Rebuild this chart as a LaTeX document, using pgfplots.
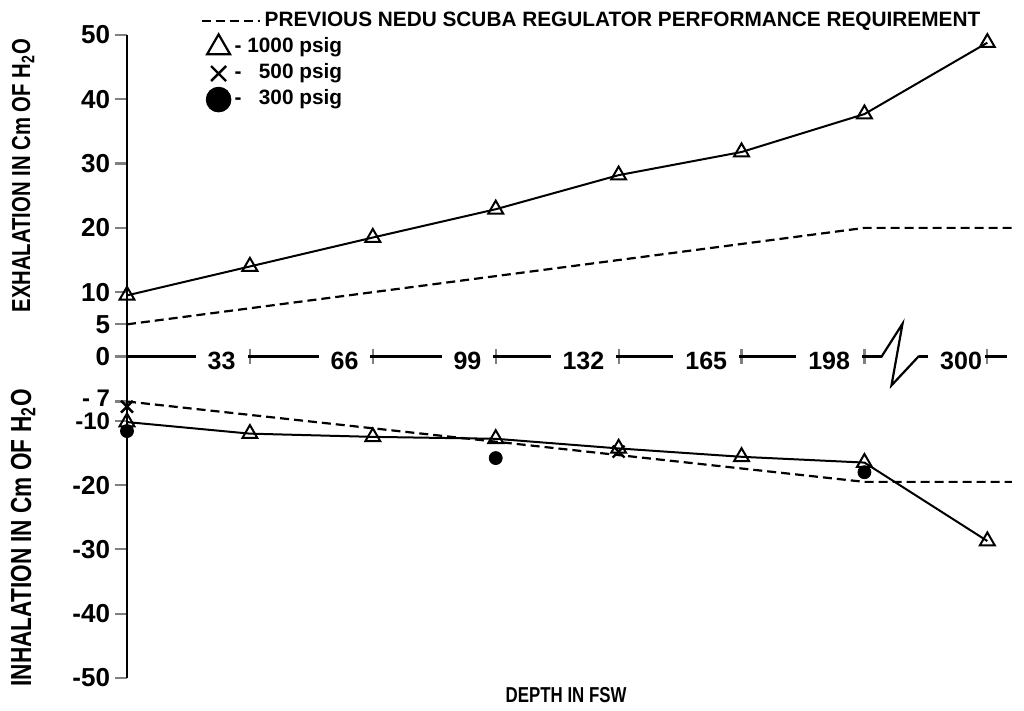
\documentclass[border=0pt]{standalone}
\usepackage{fontspec}
\setmainfont{Liberation Sans}
\newfontfamily\condensed[FakeStretch=0.78]{Liberation Sans}
\usepackage{pgfplots}
\pgfplotsset{compat=1.18}
\pgfplotsset{reqleg/.style={legend image code/.code={\draw[black,line width=1.1pt,dash pattern=on 4.5pt off 2.5pt] (0pt,0pt) -- (29pt,0pt);}}}
\begin{document}
\begin{tikzpicture}
\useasboundingbox (-63.5pt,-16.5pt) rectangle (448.5pt,339pt);
\begin{axis}[
  at={(0,0)}, anchor=south west,
  scale only axis, width=440pt, height=321.5pt,
  xmin=0, xmax=7.16, ymin=-50, ymax=50,
  clip=false,
  axis x line*=middle, axis y line*=left,
  axis line style={line width=1.3pt},
  xtick={1,2,3,4,5,6,7}, xticklabels={33,66,99,132,165,198,300\hspace*{-4.5pt}},
  ytick={-50,-40,-30,-20,-10,-7,0,5,10,20,30,40,50},
  yticklabels={-50,-40,-30,-20,\raisebox{-1.5pt}{\fontsize{12}{12}\selectfont -10},\raisebox{3pt}{\fontsize{12}{12}\selectfont - 7},0,5,10,20,30,40,50},
  xtick align=center, ytick align=outside,
  xtick style={line width=1.1pt, /pgfplots/major tick length=7.5pt},
  ytick style={line width=1.1pt, /pgfplots/major tick length=6pt},
  xticklabel style={font=\bfseries\fontsize{12.5}{14}\selectfont, anchor=east, fill=white, inner xsep=6pt, inner ysep=1pt, xshift=-1pt},
  yticklabel style={font=\bfseries\fontsize{13}{14}\selectfont, inner xsep=4pt, inner ysep=0pt},
  legend style={at={(axis description cs:0.083,1.042)}, anchor=north west, draw=none, fill=none,
    font=\bfseries\fontsize{10.4}{12}\selectfont, row sep=0pt, inner sep=0pt,
    cells={anchor=west}, nodes={inner xsep=2pt, inner ysep=0pt, text height=9pt, text depth=4pt}},
]
\addlegendimage{reqleg}
\addlegendentry{PREVIOUS NEDU SCUBA REGULATOR PERFORMANCE REQUIREMENT}
\addlegendimage{black, only marks, mark=triangle, mark size=6.6pt, line width=1.1pt}
\addlegendentry{\hspace*{-15pt}- 1000 psig}
\addlegendimage{black, only marks, mark=x, mark size=5.3pt, line width=1.2pt}
\addlegendentry{\hspace*{-15pt}- \phantom{1}500 psig}
\addlegendimage{black, only marks, mark=*, mark size=6.2pt}
\addlegendentry{\hspace*{-15pt}- \phantom{1}300 psig}

% break symbol on the depth axis
\fill[white] (axis cs:6.14,-1.3) rectangle (axis cs:6.44,1.3);
\draw[black, line width=1.1pt] (axis cs:6.10,0) -- (axis cs:6.14,0) -- (axis cs:6.31,5.1) -- (axis cs:6.22,-4.5) -- (axis cs:6.44,0) -- (axis cs:6.5,0);

% 300 psig
\addplot[forget plot, only marks, mark=*, mark size=3.25pt, black] coordinates {(0,-11.6) (3,-15.8) (6,-18)};
% 500 psig
\addplot[forget plot, only marks, mark=x, mark size=4.2pt, line width=1.2pt, black] coordinates {(0,-7.8) (4,-14.8)};
% previous requirement
\addplot[forget plot, black, line width=1.1pt, dash pattern=on 4.5pt off 2.5pt] coordinates {(0,5) (6,20) (7.2,20)};
\addplot[forget plot, black, line width=1.1pt, dash pattern=on 4.5pt off 2.5pt] coordinates {(0,-7) (6,-19.5) (7.2,-19.5)};
% 1000 psig
\addplot[forget plot, black, line width=1pt, mark=triangle, mark size=4.3pt, mark options={fill=white, solid}] coordinates {(0,9.5) (1,14) (2,18.5) (3,22.9) (4,28.2) (5,31.8) (6,37.7) (7,48.8)};
\addplot[forget plot, black, line width=1pt, mark=triangle, mark size=4.3pt, mark options={fill=white, solid}] coordinates {(0,-10.2) (1,-12) (2,-12.5) (3,-12.8) (4,-14.3) (5,-15.6) (6,-16.5) (7,-28.7)};

\node[rotate=90, font=\condensed\bfseries\fontsize{13}{14}\selectfont] at (axis description cs:-0.118,0.781) {EXHALATION IN Cm OF H\textsubscript{2}O};
\node[rotate=90, font=\condensed\bfseries\fontsize{14.5}{16}\selectfont] at (axis description cs:-0.118,0.218) {INHALATION IN Cm OF H\textsubscript{2}O};
\node[font=\condensed\bfseries\fontsize{10.8}{12}\selectfont] at (axis description cs:0.499,-0.026) {DEPTH IN FSW};
\end{axis}
\end{tikzpicture}
\end{document}
